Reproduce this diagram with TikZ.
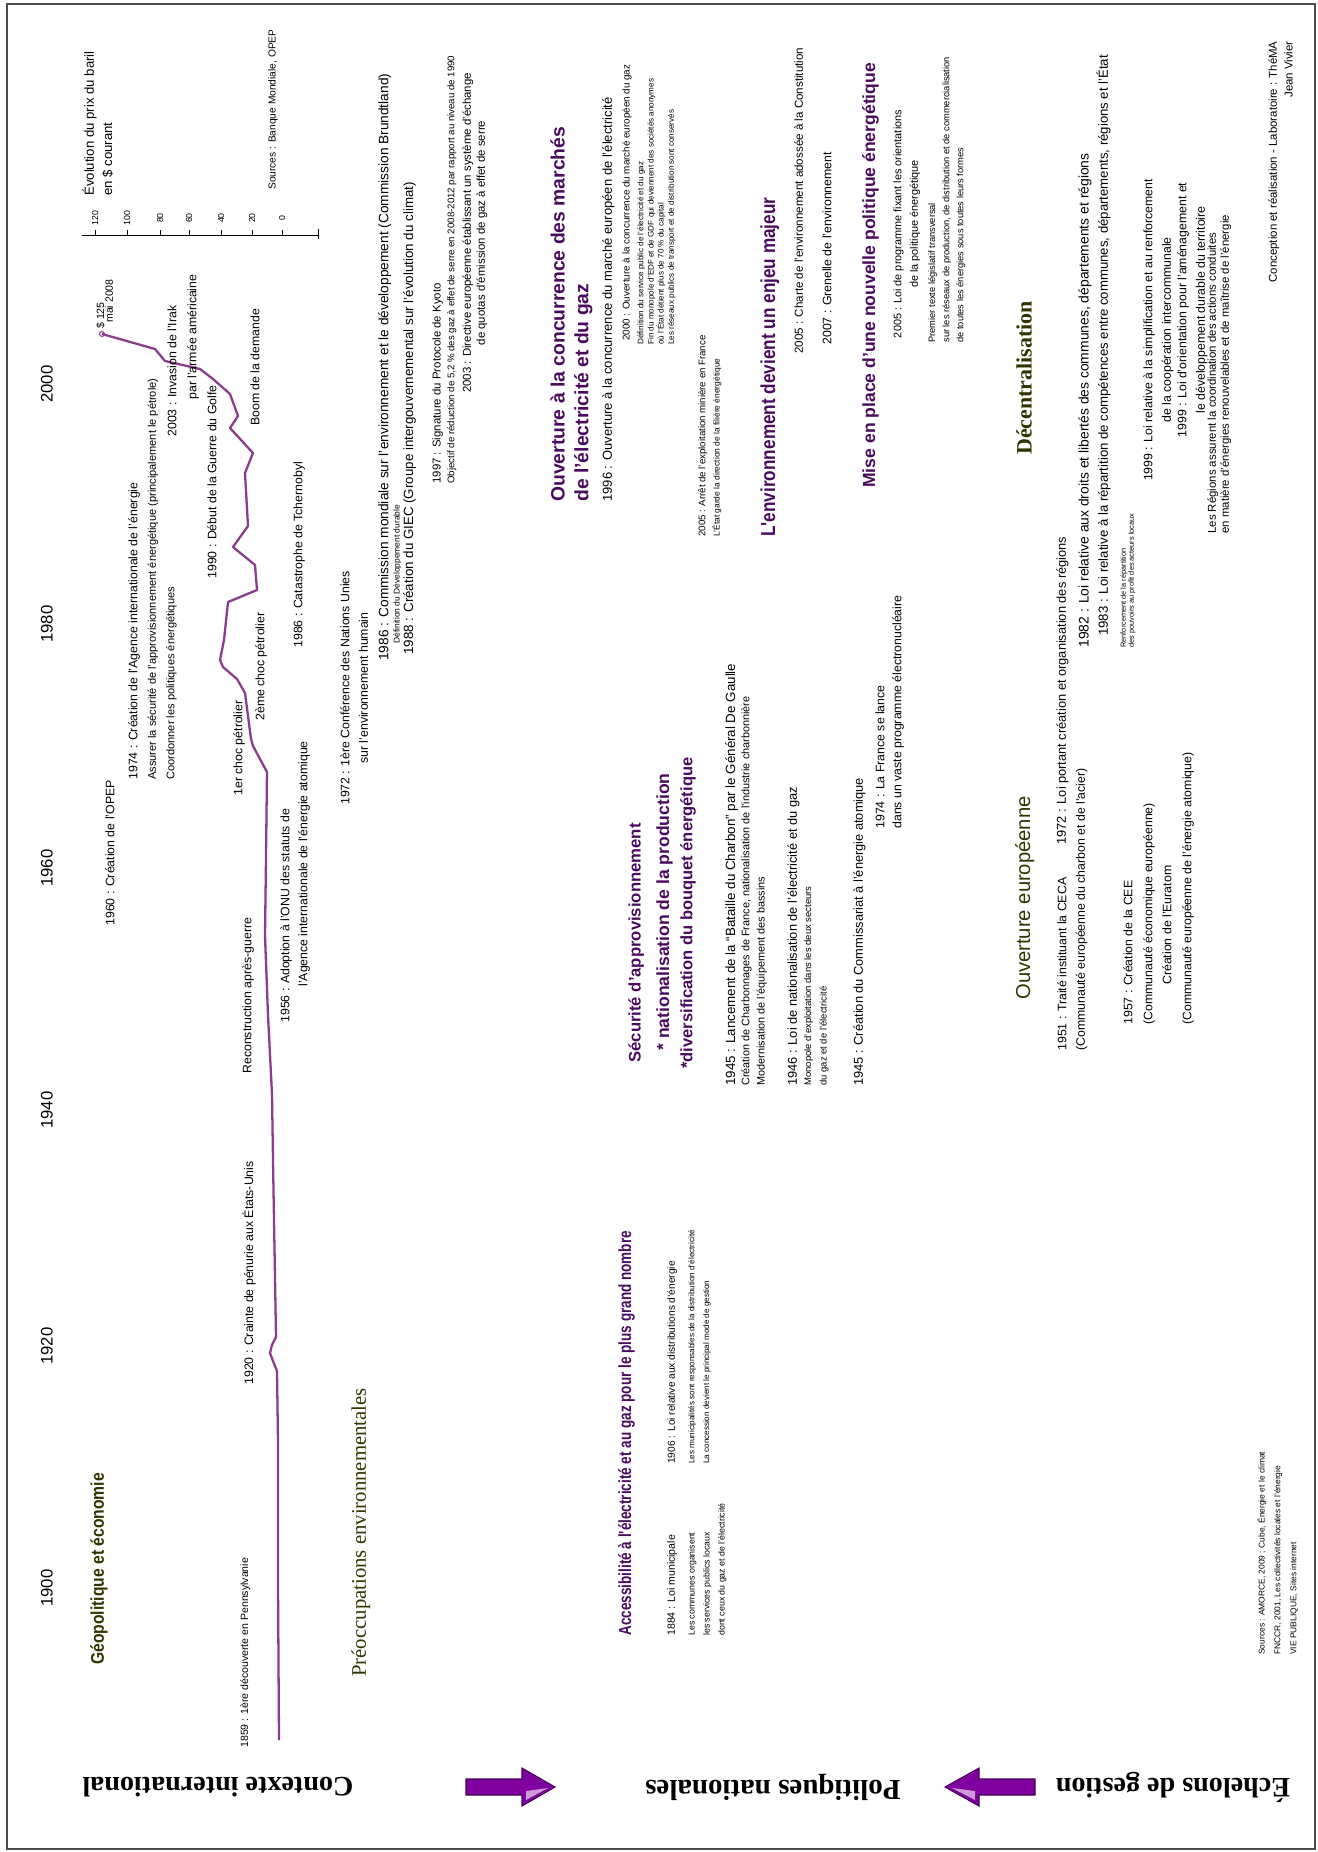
\documentclass[tikz,border=0pt]{standalone}
\usepackage{fontspec}
\setmainfont{Liberation Sans}
\newfontfamily\tnr{Liberation Serif}
\newfontfamily\etroit[FakeStretch=0.85]{Liberation Sans}
\newfontfamily\tresetroit[FakeStretch=0.77]{Liberation Sans}
\usepackage{xcolor}
\usetikzlibrary{arrows.meta}
\definecolor{oil}{RGB}{140,60,140}
\definecolor{titre}{RGB}{75,10,95}
\definecolor{rubrique}{RGB}{51,51,0}
\definecolor{fleche}{RGB}{128,0,160}

\begin{document}
\begin{tikzpicture}[x=0.02cm,y=-0.02cm,
  ev/.style={rotate=90,anchor=north west,inner sep=0pt,align=left,font=\fontsize{7}{10.5}\selectfont},
  evs/.style={ev,font=\fontsize{6.2}{9.5}\selectfont},
  sm/.style={ev,font=\fontsize{5.4}{8.5}\selectfont},
  yr/.style={rotate=90,inner sep=0pt,font=\fontsize{9.5}{11}\selectfont},
  head/.style={ev,text=titre,font=\bfseries\fontsize{10.5}{13}\selectfont},
  rub/.style={ev,text=rubrique},
  echelon/.style={rotate=180,inner sep=0pt,font=\tnr\bfseries\fontsize{16.5}{19}\selectfont},
  bloc/.style={fill=fleche,draw=fleche!55!black,line width=0.6pt}]
\useasboundingbox (0,0) rectangle (1318,1852);
\draw[line width=1.5pt,black!70] (7,4) rectangle (1315,1849);

\foreach \an/\yy in {1900/1588,1920/1346,1940/1110,1960/868,1980/624,2000/384}
  \node[yr] (an\an) at (47,\yy) {\an};

\node[ev,font=\fontsize{7.5}{10.5}\selectfont] (legende) at (82,196) {Évolution du prix du baril\\en \$ courant};
\draw (82,235) -- (318,235);
\draw (318,229) -- (318,239);
\foreach \px/\val in {95/120,127/100,160/80,189/60,221/40,252/20,282/0}{
  \draw (\px,235) -- (\px,230);
  \node[rotate=90,inner sep=0pt,font=\fontsize{5}{6}\selectfont] (p\val) at (\px,218) {\val};
}
\node[sm,font=\fontsize{5.8}{7}\selectfont] (source) at (268,190) {Sources : Banque Mondiale, OPEP};

\draw[oil,line width=1.3pt,line join=round] (279,1740) -- (278,1583) -- (278,1442) -- (277,1371) -- (273,1361) -- (270,1353) -- (272,1345) -- (276,1337) -- (275,1276) -- (274,1220) -- (273,1160) -- (272,1094) -- (268,1015) -- (265,936) -- (266,857) -- (267,772) -- (253,746) -- (251,739) -- (245,693) -- (237,679) -- (223,667) -- (220,660) -- (224,640) -- (228,602) -- (257,590) -- (255,565) -- (233,547) -- (248,526) -- (245,473) -- (253,453) -- (230,428) -- (238,416) -- (230,394) -- (213,379) -- (200,369) -- (165,361) -- (155,349) -- (102,334);
\draw[oil,line width=0.6pt] (102,334) circle (1.4pt);
\node[sm,font=\fontsize{6}{7}\selectfont] (prix) at (96,329) {\$ 125};
\node[sm,font=\fontsize{6}{7}\selectfont] (date) at (105,323) {mai 2008};

\node[ev] (irak) at (167,437) {2003 : Invasion de l'Irak};
\node[ev] (armee) at (187,400) {par l'armée américaine};
\node[ev] (boom) at (250,426) {Boom de la demande};
\node[ev] (golfe) at (207,579) {1990 : Début de la Guerre du Golfe};
\node[ev] (aie) at (128,780) {1974 : Création de l'Agence internationale de l'énergie\\{\fontsize{6.3}{10.5}\selectfont Assurer la sécurité de l'approvisionnement énergétique (principalement le pétrole)}\\{\fontsize{6.3}{10.5}\selectfont Coordonner les politiques énergétiques}};
\node[ev] (tchernobyl) at (293,648) {1986 : Catastrophe de Tchernobyl};
\node[ev] (opep) at (105,926) {1960 : Création de l'OPEP};
\node[ev] (choc1) at (233,796) {1er choc pétrolier};
\node[ev] (choc2) at (255,721) {2ème choc pétrolier};
\node[ev] (reconstruction) at (242,1074) {Reconstruction après-guerre};
\node[ev] (onu) at (280,1023) {1956 : Adoption à l'ONU des statuts de};
\node[ev] (aiea) at (298,987) {l'Agence internationale de l'énergie atomique};
\node[ev] (penurie) at (242,1385) {1920 : Crainte de pénurie aux États-Unis};
\node[rub,font=\etroit\bfseries\fontsize{10.5}{12}\selectfont] (geo) at (90,1665) {Géopolitique et économie};
\node[ev,font=\fontsize{6}{8}\selectfont] (pennsylvanie) at (240,1748) {1859 : 1ère découverte en Pennsylvanie};

\node[rub,font=\tnr\fontsize{11.8}{14}\selectfont] (environnement) at (351,1677) {Préoccupations environnementales};
\node[ev,anchor=north,align=center] (stockholm) at (340,688) {1972 : 1ère Conférence des Nations Unies\\sur l'environnement humain};
\node[ev,font=\fontsize{7.8}{10.5}\selectfont] (brundtland) at (378,661) {1986 : Commission mondiale sur l'environnement et le développement (Commission Brundtland)};
\node[sm,font=\fontsize{4.8}{6}\selectfont] (durable) at (393,644) {Définition du Développement durable};
\node[ev,font=\fontsize{7.6}{10.5}\selectfont] (giec) at (403,655) {1988 : Création du GIEC (Groupe intergouvernemental sur l'évolution du climat)};
\node[ev,font=\fontsize{6.5}{9}\selectfont] (kyoto) at (432,484) {1997 : Signature du Protocole de Kyoto};
\node[sm,font=\fontsize{5.5}{6}\selectfont] (objectif) at (447,484) {Objectif de réduction de 5,2 \% des gaz à effet de serre en 2008-2012 par rapport au niveau de 1990};
\node[ev,anchor=north,align=center,font=\fontsize{6.5}{8}\selectfont] (quotas) at (462,233) {2003 : Directive européenne établissant un système d'échange\\de quotas d'émission de gaz à effet de serre};

\node[head,font=\bfseries\fontsize{11}{13.5}\selectfont] (marches) at (550,502) {Ouverture à la concurrence des marchés\\de l'électricité et du gaz};
\node[ev,font=\fontsize{7.4}{10}\selectfont] (marche96) at (602,502) {1996 : Ouverture à la concurrence du marché européen de l'électricité};
\node[ev,font=\fontsize{5.6}{9}\selectfont] (marche00) at (622,341) {2000 : Ouverture à la concurrence du marché européen du gaz};
\node[sm,font=\fontsize{4.6}{5.8}\selectfont] (servicepublic) at (637,345) {Définition du service public de l'électricité et du gaz\\Fin du monopole d'EDF et de GDF qui deviennent des sociétés anonymes\\où l'État détient plus de 70 \% du capital\\Les réseaux publics de transport et de distribution sont conservés};
\node[ev,font=\fontsize{5.5}{9}\selectfont] (mines) at (698,537) {2005 : Arrêt de l'exploitation minière en France};
\node[sm,font=\fontsize{4.8}{6}\selectfont] (filiere) at (712,537) {L'État garde la direction de la filière énergétique};
\node[head,font=\etroit\bfseries\fontsize{11.5}{14}\selectfont] (enjeu) at (760,537) {L'environnement devient un enjeu majeur};
\node[ev,font=\fontsize{6.6}{9}\selectfont] (charte) at (794,354) {2005 : Charte de l'environnement adossée à la Constitution};
\node[ev] (grenelle) at (822,345) {2007 : Grenelle de l'environnement};
\node[head,font=\bfseries\fontsize{10}{12}\selectfont] (politique) at (862,488) {Mise en place d'une nouvelle politique énergétique};
\node[evs,anchor=north,align=center] (loi2005) at (893,224) {2005 : Loi de programme fixant les orientations\\de la politique énergétique};
\node[sm,font=\fontsize{5.3}{8}\selectfont] (transversal) at (928,343) {Premier texte législatif transversal\\sur les réseaux de production, de distribution et de commercialisation\\de toutes les énergies sous toutes leurs formes};

\node[head,font=\tresetroit\bfseries\fontsize{10}{12}\selectfont] (accessibilite) at (618,1636) {Accessibilité à l'électricité et au gaz pour le plus grand nombre};
\node[ev,font=\fontsize{6}{8}\selectfont] (loi1884) at (667,1636) {1884 : Loi municipale};
\node[sm,font=\fontsize{5}{8.5}\selectfont] (communes) at (688,1636) {Les communes organisent\\les services publics locaux\\dont ceux du gaz et de l'électricité};
\node[ev,font=\fontsize{5.8}{8}\selectfont] (loi1906) at (667,1464) {1906 : Loi relative aux distributions d'énergie};
\node[sm,font=\fontsize{4.6}{8.5}\selectfont] (concession) at (688,1464) {Les municipalités sont responsables de la distribution d'électricité\\La concession devient le principal mode de gestion};
\node[head,font=\bfseries\fontsize{9.5}{12}\selectfont] (securite) at (628,1063) {Sécurité d'approvisionnement};
\node[head,font=\bfseries\fontsize{10}{12}\selectfont] (nationalisation) at (656,1051) {* nationalisation de la production};
\node[head,font=\bfseries\fontsize{9.4}{12}\selectfont] (diversification) at (680,1069) {*diversification du bouquet énergétique};
\node[ev,font=\fontsize{7.6}{10}\selectfont] (charbon) at (725,1086) {1945 : Lancement de la ``Bataille du Charbon'' par le Général De Gaulle};
\node[sm,font=\fontsize{6.2}{8.7}\selectfont] (charbonnages) at (741,1086) {Création de Charbonnages de France, nationalisation de l'industrie charbonnière\\Modernisation de l'équipement des bassins};
\node[ev,font=\fontsize{7.3}{10}\selectfont] (loi1946) at (787,1086) {1946 : Loi de nationalisation de l'électricité et du gaz};
\node[sm,font=\fontsize{5.4}{8.7}\selectfont] (monopole) at (804,1086) {Monopole d'exploitation dans les deux secteurs\\du gaz et de l'électricité};
\node[ev,font=\fontsize{7.3}{10}\selectfont] (cea) at (853,1086) {1945 : Création du Commissariat à l'énergie atomique};
\node[ev,font=\fontsize{7}{9.7}\selectfont] (nucleaire) at (875,829) {1974 : La France se lance\\dans un vaste programme électronucléaire};

\node[rub,font=\fontsize{11.5}{13}\selectfont] (europe) at (1015,1000) {Ouverture européenne};
\node[ev] (ceca) at (1057,1051) {1951 : Traité instituant la CECA\\(Communauté européenne du charbon et de l'acier)};
\node[ev,font=\fontsize{7}{11.4}\selectfont] (cee) at (1123,1025) {1957 : Création de la CEE\\(Communauté économique européenne)};
\node[ev] (euratom) at (1162,985) {Création de l'Euratom};
\node[ev] (ceea) at (1182,1025) {(Communauté européenne de l'énergie atomique)};
\node[ev,font=\fontsize{7.3}{10}\selectfont] (regions72) at (1056,845) {1972 : Loi portant création et organisation des régions};
\node[ev,font=\fontsize{7.9}{10}\selectfont] (loi1982) at (1078,648) {1982 : Loi relative aux droits et libertés des communes, départements et régions};
\node[ev,font=\fontsize{7.5}{10}\selectfont] (loi1983) at (1096,636) {1983 : Loi relative à la répartition de compétences entre communes, départements, régions et l'État};
\node[sm,font=\fontsize{4.2}{4.6}\selectfont] (pouvoirs) at (1120,648) {Renforcement de la répartition\\des pouvoirs au profit des acteurs locaux};
\node[rub,font=\tnr\bfseries\fontsize{12.5}{15}\selectfont] (decentralisation) at (1016,455) {Décentralisation};
\node[ev,anchor=north,align=center] (intercommunalite) at (1143,330) {1999 : Loi relative à la simplification et au renforcement\\de la coopération intercommunale};
\node[ev,anchor=north,align=center] (territoire) at (1177,310) {1999 : Loi d'orientation pour l'aménagement et\\le développement durable du territoire};
\node[sm,font=\fontsize{6.5}{7.5}\selectfont] (regions) at (1207,534) {Les Régions assurent la coordination des actions conduites\\en matière d'énergies renouvelables et de maîtrise de l'énergie};
\node[ev,anchor=north east,align=right,font=\fontsize{6.5}{9}\selectfont] (credits) at (1268,41) {Conception et réalisation - Laboratoire : ThéMA\\Jean Vivier};
\node[sm,font=\fontsize{4.8}{9}\selectfont] (sources) at (1257,1655) {Sources : AMORCE, 2009 ; Cube, Énergie et le climat\\FNCCR, 2001, Les collectivités locales et l'énergie\\VIE PUBLIQUE, Sites internet};

\node[echelon,font=\tnr\bfseries\fontsize{16}{19}\selectfont] (contexte) at (218,1787) {Contexte international};
\node[echelon] (politiques) at (773,1787) {Politiques nationales};
\node[echelon,font=\tnr\bfseries\fontsize{16}{18}\selectfont] (echelons) at (1173,1787) {Échelons de gestion};
\draw[bloc] (466,1779) -- (522,1779) -- (522,1768) -- (555,1787) -- (522,1806) -- (522,1795) -- (466,1795) -- cycle;
\fill[white!60!fleche] (526,1791) -- (548,1788) -- (526,1800) -- cycle;
\draw[bloc] (1035,1779) -- (979,1779) -- (979,1768) -- (945,1787) -- (979,1806) -- (979,1795) -- (1035,1795) -- cycle;
\fill[white!60!fleche] (975,1791) -- (952,1788) -- (975,1800) -- cycle;
\end{tikzpicture}
\end{document}
